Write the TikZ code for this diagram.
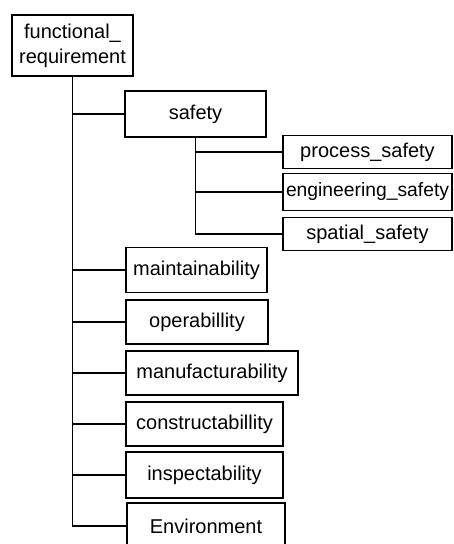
\documentclass[tikz,border=0pt]{standalone}
\usepackage{fontspec}
\setmainfont{Liberation Sans}
\usepackage{tikz}
\usetikzlibrary{positioning, calc}

\begin{document}
\begin{tikzpicture}[x=1pt, y=-1pt,
    box/.style={draw=black, line width=1.1pt, inner sep=0pt, align=center,
                font=\fontsize{20}{25}\selectfont},
    link/.style={draw=black, line width=1.6pt}]
  \useasboundingbox (0,0) rectangle (453,544);
  % top level
  \node[box, minimum width=121pt, minimum height=61pt] (root) at (72.5,45.5) {functional\_\\requirement};
  \node[box, minimum width=141pt, minimum height=46pt] (safety) at (195.5,114) {safety};
  % safety children
  \node[box, minimum width=169pt, minimum height=33pt] (procsafety) at (367.5,152) {process\_safety};
  \node[box, minimum width=169pt, minimum height=37pt, font=\fontsize{19.3}{24}\selectfont] (engsafety) at (367.5,192) {\makebox[169pt][l]{\hspace{3pt}engineering\_safety}};
  \node[box, minimum width=169pt, minimum height=33pt] (spatsafety) at (367.5,234) {spatial\_safety};
  % other requirements
  \node[box, minimum width=141pt, minimum height=45pt] (maintain) at (196.5,270) {maintainability};
  \node[box, minimum width=142pt, minimum height=44pt] (operab) at (197,322) {operabillity};
  \node[box, minimum width=172pt, minimum height=44pt] (manufac) at (212,373) {manufacturability};
  \node[box, minimum width=157pt, minimum height=44pt] (construct) at (204.5,424) {constructabillity};
  \node[box, minimum width=157pt, minimum height=46pt] (inspect) at (204.5,475) {inspectability};
  \node[box, minimum width=158pt, minimum height=46pt] (environ) at (206,526) {Environment};

  % connectors
  \draw[link] (root.south) |- (environ.west);
  \foreach \n in {safety, maintain, operab, manufac, construct, inspect}
    \draw[link] (root.south |- \n.west) -- (\n.west);
  \draw[link] (safety.south) |- (spatsafety.west);
  \foreach \n in {procsafety, engsafety}
    \draw[link] (safety.south |- \n.west) -- (\n.west);
\end{tikzpicture}
\end{document}
